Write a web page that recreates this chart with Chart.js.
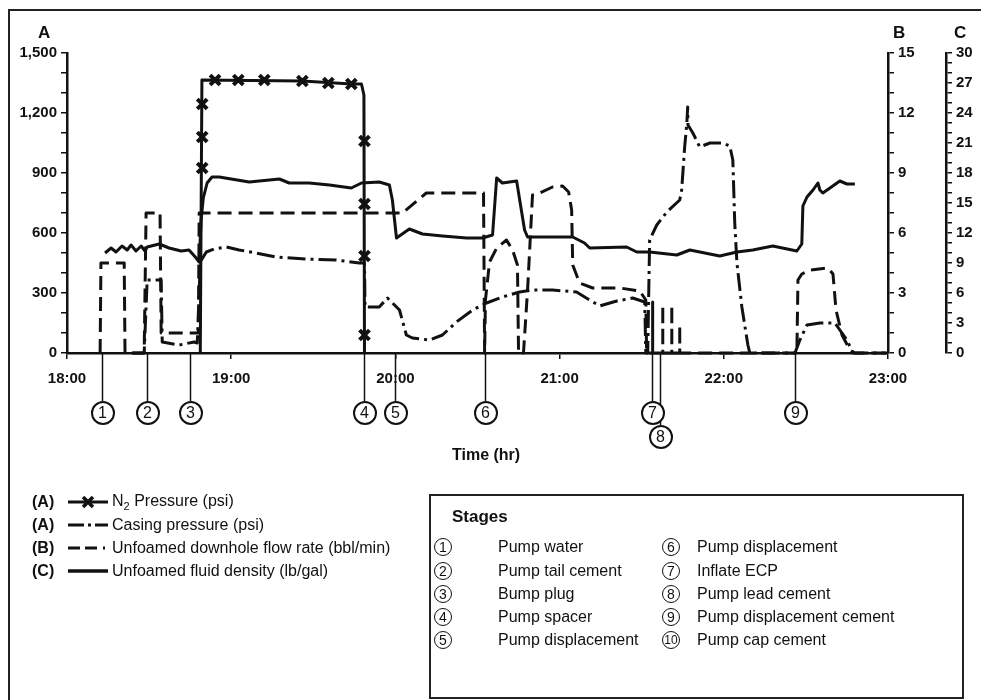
<!DOCTYPE html>
<html><head><meta charset="utf-8">
<script src="https://cdn.jsdelivr.net/npm/chart.js@4.4.0/dist/chart.umd.min.js"></script>
<style>
html,body{margin:0;padding:0;background:#fff;}
#wrap{position:relative;width:981px;height:700px;overflow:hidden;font-family:"Liberation Sans",Arial,Helvetica,sans-serif;color:#111;}
#c{position:absolute;left:0;top:0;}
.frame{position:absolute;left:8px;top:9px;width:990px;height:720px;border:2px solid #222;box-sizing:border-box;}
.t{position:absolute;white-space:nowrap;line-height:1;}
.b{font-weight:bold;}
.stg{position:absolute;width:24px;height:24px;box-sizing:border-box;border:2px solid #111;border-radius:50%;display:flex;align-items:center;justify-content:center;font-size:16px;background:#fff;}
.lg{position:absolute;left:32px;height:20px;display:flex;align-items:center;font-size:16px;}
.lg .k{font-weight:bold;width:36px;}
.lg svg{margin-right:4px;}
.box{position:absolute;left:429px;top:494px;width:535px;height:205px;border:2px solid #222;box-sizing:border-box;}
.srow{position:absolute;font-size:16px;line-height:1;display:flex;align-items:center;height:20px;}
.sc{position:absolute;width:18px;height:18px;box-sizing:border-box;border:1.8px solid #111;border-radius:50%;display:flex;align-items:center;justify-content:center;font-size:14px;}
</style></head>
<body>
<div id="wrap">
  <canvas id="c" width="981" height="700"></canvas>
  <div class="frame"></div>
  <div class="t b" style="left:38px;top:24px;font-size:17px;">A</div>
  <div class="t b" style="left:893px;top:24px;font-size:17px;">B</div>
  <div class="t b" style="left:954px;top:24px;font-size:17px;">C</div>
  <div class="t b" style="left:452px;top:447px;font-size:16px;">Time (hr)</div>
  <div id="stages"></div>

  <div class="lg" style="top:492px;"><span class="k">(A)</span>
    <svg width="40" height="14"><line x1="0" y1="7" x2="40" y2="7" stroke="#111" stroke-width="3"/><line x1="15" y1="2" x2="25" y2="12" stroke="#111" stroke-width="3.5"/><line x1="25" y1="2" x2="15" y2="12" stroke="#111" stroke-width="3.5"/></svg>
    <span>N<sub style="font-size:11px;">2</sub> Pressure (psi)</span></div>
  <div class="lg" style="top:515px;"><span class="k">(A)</span>
    <svg width="40" height="14"><line x1="0" y1="7" x2="16" y2="7" stroke="#111" stroke-width="3"/><line x1="20" y1="7" x2="23" y2="7" stroke="#111" stroke-width="3"/><line x1="27" y1="7" x2="40" y2="7" stroke="#111" stroke-width="3"/></svg>
    <span>Casing pressure (psi)</span></div>
  <div class="lg" style="top:538px;"><span class="k">(B)</span>
    <svg width="40" height="14"><line x1="0" y1="7" x2="12" y2="7" stroke="#111" stroke-width="3"/><line x1="17" y1="7" x2="29" y2="7" stroke="#111" stroke-width="3"/><line x1="35" y1="7" x2="37" y2="7" stroke="#111" stroke-width="3"/></svg>
    <span>Unfoamed downhole flow rate (bbl/min)</span></div>
  <div class="lg" style="top:561px;"><span class="k">(C)</span>
    <svg width="40" height="14"><line x1="0" y1="7" x2="40" y2="7" stroke="#111" stroke-width="3.5"/></svg>
    <span>Unfoamed fluid density (lb/gal)</span></div>

  <div class="box"></div>
  <div id="stagebox"></div>
</div>
<script>
// ---------- data (time in minutes after 18:00) ----------
const xTickLabels = ['18:00','19:00','20:00','21:00','22:00','23:00'];
const aTickLabels = ['0','300','600','900','1,200','1,500'];
const bTickLabels = ['0','3','6','9','12','15'];
const cTickLabels = ['0','3','6','9','12','15','18','21','24','27','30'];

const n2Time = [48.7,49.3,86.0,104.0,107.6,108.5,108.7];
const n2Psi  = [0,1365,1360,1345,1345,1290,0];
const n2MarkTime = [49.4,49.4,49.4,54.1,62.6,72.1,86.0,95.5,103.9,108.7,108.7,108.7,108.7];
const n2MarkPsi  = [925,1080,1245,1365,1365,1365,1360,1350,1345,1060,745,485,90];

const casingTime = [24.0,28.2,29.3,34.4,34.8,41.0,46.5,47.6,48.7,50.9,53.8,58.2,62.9,69.1,76.5,87.4,98.4,106.8,108.7,108.9,114.1,117.1,121.5,124.0,126.2,132.4,137.2,142.3,148.2,153.3,159.1,165.4,170.1,177.4,186.2,191.0,194.6,200.9,206.7,211.1,211.5,212.2,212.9,215.5,219.2,223.9,224.6,225.7,226.5,226.8,226.9,228.7,231.2,234.9,239.6,242.2,243.3,244.0,244.8,246.6,248.8,249.5,266.0,267.8,270.4,275.1,280.6,282.4,285.0,287.2,300];
const casingPsi  = [0,0,365,365,55,40,55,50,455,505,520,530,515,500,480,470,465,450,450,230,230,275,215,90,75,65,90,155,215,250,280,305,315,315,305,265,235,260,275,255,0,0,565,640,705,765,815,1030,1150,1230,1140,1100,1030,1050,1050,1035,965,650,450,230,40,0,0,65,140,150,150,115,65,0,0];

const flowTime = [12.1,12.4,20.9,21.2,28.2,28.9,34.0,34.4,48.0,48.3,118.9,122.6,131.3,152.2,152.6,152.9,154.4,157.0,160.6,162.8,164.6,165.0,166.8,168.3,170.1,172.7,177.4,181.1,183.3,184.4,184.8,187.3,192.1,202.0,209.3,211.5,211.8,214.0,214.0,214.0,217.7,217.7,217.7,221.0,221.0,221.0,223.9,223.9,223.9,266.7,267.1,268.5,271.5,278.1,279.9,281.0,283.2,286.1,287.9,300];
const flowRate = [0,4.5,4.5,0,0,7.0,7.0,1.0,1.0,7.0,7.0,7.0,8.0,8.0,0,2.65,4.55,5.25,5.65,5.15,4.4,0,0,3.15,7.9,8.0,8.3,8.35,8.05,7.15,4.4,3.5,3.25,3.25,3.1,2.65,0,0,2.55,0,0,2.4,0,0,2.4,0,0,1.4,0,0,3.65,3.95,4.15,4.25,3.95,2.15,0.9,0.15,0,0];

const densityTime = [13.9,16.1,17.9,20.1,22.0,23.4,25.2,27.1,28.5,29.3,33.7,37.3,41.7,44.6,47.2,48.3,49.0,49.8,51.2,53.0,55.6,66.6,77.6,81.2,88.5,95.9,103.9,107.6,114.1,117.8,118.9,120.4,125.1,129.9,137.2,146.0,151.8,155.5,157.0,159.1,164.3,167.2,168.3,184.8,189.1,191.0,204.5,208.2,212.9,222.8,227.6,238.5,244.8,250.6,257.9,266.7,268.5,268.9,270.4,272.6,274.4,275.1,276.2,278.8,282.4,285.0,287.9];
const densityVal  = [10.0,10.5,10.1,10.7,10.3,10.8,10.2,10.7,10.2,10.6,10.9,10.5,10.2,10.3,9.5,9.1,13.3,15.5,17.0,17.6,17.6,17.1,17.4,17.0,17.0,16.8,16.5,17.0,17.1,16.8,15.3,11.5,12.4,11.9,11.7,11.5,11.5,11.8,17.5,17.0,17.2,12.3,11.6,11.6,11.0,10.5,10.6,10.1,10.1,9.8,10.3,9.7,10.1,10.3,10.7,10.2,10.9,14.7,15.6,16.3,17.0,16.3,16.0,16.5,17.2,16.9,16.9];

const stageTimes  = [12.8,29.3,45.0,108.7,120.0,152.6,213.7,216.6,266.0];
const stageNums   = ['1','2','3','4','5','6','7','8','9'];
const stageNames  = ['Pump water','Pump tail cement','Bump plug','Pump spacer','Pump displacement','Pump displacement','Inflate ECP','Pump lead cement','Pump displacement cement','Pump cap cement'];

// ---------- helpers ----------
const pts = (xs, ys) => xs.map((x, i) => ({x, y: ys[i]}));
const INK = '#111';
const tickFont = {family: '"Liberation Sans", Arial, sans-serif', size: 15, weight: 'bold'};

// stage circles under the axis
const stWrap = document.getElementById('stages');
stageNums.forEach((n, i) => {
  const d = document.createElement('div'); d.className = 'stg'; d.id = 'stg' + i; d.textContent = n; stWrap.appendChild(d);
});
// stages box content
const sb = document.getElementById('stagebox');
(function(){
  const t = document.createElement('div'); t.className = 't b'; t.style.cssText = 'left:452px;top:508px;font-size:17px;'; t.textContent = 'Stages'; sb.appendChild(t);
  const rowsY = [547,571,594,617,640];
  stageNames.forEach((name, i) => {
    const col = i < 5 ? 0 : 1, r = i % 5;
    const cx = col ? 671 : 443, tx = col ? 697 : 498;
    const c = document.createElement('div'); c.className = 'sc'; c.textContent = String(i + 1);
    c.style.left = (cx - 9) + 'px'; c.style.top = (rowsY[r] - 9) + 'px';
    if (i === 9) c.style.fontSize = '12px';
    sb.appendChild(c);
    const s = document.createElement('div'); s.className = 'srow'; s.textContent = name;
    s.style.left = tx + 'px'; s.style.top = (rowsY[r] - 10) + 'px';
    sb.appendChild(s);
  });
})();

const stagePlugin = {
  id: 'stageLines',
  afterDraw(chart) {
    const ctx = chart.ctx, xs = chart.scales.x, bottom = chart.chartArea.bottom;
    ctx.save(); ctx.strokeStyle = INK; ctx.lineWidth = 1.5;
    stageTimes.forEach((t, i) => {
      const x = Math.round(xs.getPixelForValue(t)) + 0.5;
      const cy = stageNums[i] === '8' ? 437 : 413;
      ctx.beginPath(); ctx.moveTo(x, bottom); ctx.lineTo(x, cy - 12); ctx.stroke();
      const el = document.getElementById('stg' + i);
      el.style.left = (x - 12) + 'px'; el.style.top = (cy - 12) + 'px';
    });
    ctx.restore();
  }
};

const yAxis = (pos, max, step, labels, every, width) => ({
  type: 'linear', position: pos, min: 0, max: max,
  afterFit: s => { s.width = width; },
  grid: {drawOnChartArea: false, drawTicks: true, tickLength: 6, color: INK, lineWidth: 1.5},
  border: {display: true, color: INK, width: 2.5},
  ticks: {stepSize: step, autoSkip: false, maxTicksLimit: 100, color: INK, font: tickFont, padding: 4,
    callback: v => (Math.round(v) % every === 0 ? labels[Math.round(v) / every] : '')}
});

const common = {fill: false, tension: 0, pointRadius: 0, borderColor: INK, borderWidth: 3, clip: 8, borderCapStyle: 'butt', borderJoinStyle: 'round'};

new Chart(document.getElementById('c'), {
  type: 'line',
  data: {
    datasets: [
      Object.assign({}, common, {label: 'N2 markers', data: pts(n2MarkTime, n2MarkPsi), yAxisID: 'yA', showLine: false,
        pointRadius: 7, pointStyle: 'crossRot', pointBorderWidth: 4, pointBorderColor: INK, pointBackgroundColor: INK}),
      Object.assign({}, common, {label: 'N2 Pressure (psi)', data: pts(n2Time, n2Psi), yAxisID: 'yA'}),
      Object.assign({}, common, {label: 'Casing pressure (psi)', data: pts(casingTime, casingPsi), yAxisID: 'yA', borderDash: [18, 5, 3, 5]}),
      Object.assign({}, common, {label: 'Unfoamed downhole flow rate (bbl/min)', data: pts(flowTime, flowRate), yAxisID: 'yB', borderDash: [14, 7]}),
      Object.assign({}, common, {label: 'Unfoamed fluid density (lb/gal)', data: pts(densityTime, densityVal), yAxisID: 'yC', borderWidth: 3})
    ]
  },
  options: {
    responsive: false, animation: false, devicePixelRatio: 1,
    layout: {padding: {left: 0, right: 0, top: 53, bottom: 0}},
    plugins: {legend: {display: false}, tooltip: {enabled: false}},
    scales: {
      x: {type: 'linear', min: 0, max: 300,
        afterFit: s => { s.height = 347; },
        grid: {drawOnChartArea: false, drawTicks: true, tickLength: 6, color: INK, lineWidth: 1.5},
        border: {display: true, color: INK, width: 2.5},
        ticks: {stepSize: 60, autoSkip: false, color: INK, font: tickFont, padding: 11, maxRotation: 0,
          callback: v => xTickLabels[Math.round(v / 60)]}},
      yA: yAxis('left', 1500, 100, aTickLabels, 300, 67),
      yB: yAxis('right', 15, 1, bTickLabels, 3, 58),
      yC: yAxis('right', 30, 1, cTickLabels, 3, 35)
    }
  },
  plugins: [stagePlugin]
});
</script>
</body></html>
